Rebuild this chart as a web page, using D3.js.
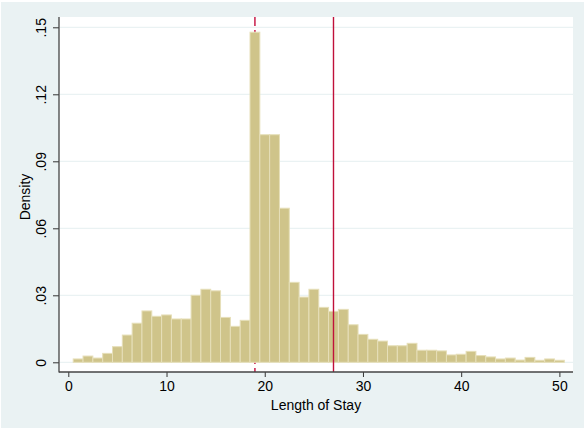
<!DOCTYPE html>
<html>
<head>
<meta charset="utf-8">
<script src="https://cdn.jsdelivr.net/npm/d3@7"></script>
<style>
  body { margin: 0; background: #ffffff; }
  svg { display: block; font-family: "Liberation Sans", Arial, sans-serif; }
</style>
</head>
<body>
<div id="chart"></div>
<script>
// bin centers (length of stay, days) and histogram densities
const stayDays = d3.range(1, 51);
const density = [
  0.0015, 0.0028, 0.0019, 0.0040, 0.0070, 0.0122, 0.0175, 0.0230, 0.0206, 0.0212,
  0.0194, 0.0194, 0.0300, 0.0327, 0.0320, 0.0201, 0.0161, 0.0188, 0.1478, 0.1019,
  0.1019, 0.0690, 0.0358, 0.0292, 0.0327, 0.0246, 0.0228, 0.0237, 0.0168, 0.0125,
  0.0103, 0.0095, 0.0074, 0.0074, 0.0085, 0.0054, 0.0054, 0.0051, 0.0033, 0.0036,
  0.0049, 0.0030, 0.0024, 0.0015, 0.0019, 0.0010, 0.0022, 0.0009, 0.0015, 0.0009
];
const xTicks = [0, 10, 20, 30, 40, 50];
const yTicks = [0, 0.03, 0.06, 0.09, 0.12, 0.15];
const yTickLabels = ["0", ".03", ".06", ".09", ".12", ".15"];
const dashedLineAt = 19;   // dashed reference line (drawn behind the bars)
const solidLineAt = 27;    // solid reference line

const W = 585, H = 430;
const plot = { left: 59, right: 573, top: 17, bottom: 372 };

const svg = d3.select("#chart").append("svg")
  .attr("width", W)
  .attr("height", H);

// graph region
svg.append("rect")
  .attr("x", 1).attr("y", 2)
  .attr("width", W - 2).attr("height", H - 4)
  .attr("fill", "#eaf2f3");

// plot region
svg.append("rect")
  .attr("x", plot.left).attr("y", plot.top)
  .attr("width", plot.right - plot.left)
  .attr("height", plot.bottom - plot.top)
  .attr("fill", "#ffffff");

const x = d3.scaleLinear().domain([0, 50]).range([68.3, 559.4]);
const y = d3.scaleLinear().domain([0, 0.15]).range([362.3, 27.3]);

// gridlines
svg.append("g")
  .selectAll("line")
  .data(yTicks)
  .enter()
  .append("line")
  .attr("x1", plot.left + 1)
  .attr("x2", plot.right)
  .attr("y1", d => y(d))
  .attr("y2", d => y(d))
  .attr("stroke", "#eaf2f3")
  .attr("stroke-width", 1.2);

// dashed line sits under the bars
svg.append("line")
  .attr("x1", x(dashedLineAt)).attr("x2", x(dashedLineAt))
  .attr("y1", plot.top).attr("y2", plot.bottom)
  .attr("stroke", "#cc2a55")
  .attr("stroke-width", 1.6)
  .attr("stroke-dasharray", "9,4");

// bars
svg.append("g")
  .selectAll("rect")
  .data(stayDays)
  .enter()
  .append("rect")
  .attr("x", d => x(d - 0.5))
  .attr("y", (d, i) => y(density[i]))
  .attr("width", d => x(d + 0.5) - x(d - 0.5))
  .attr("height", (d, i) => y(0) - y(density[i]))
  .attr("fill", "#cfc48a")
  .attr("stroke", "#e6dfb9")
  .attr("stroke-width", 1);

svg.append("line")
  .attr("x1", x(solidLineAt)).attr("x2", x(solidLineAt))
  .attr("y1", plot.top).attr("y2", plot.bottom)
  .attr("stroke", "#c0103a")
  .attr("stroke-width", 1.4);

// y axis
const yAxis = svg.append("g")
  .attr("transform", `translate(${plot.left},0)`)
  .call(d3.axisLeft(y).tickValues(yTicks).tickSize(6)
    .tickFormat((d, i) => yTickLabels[i]));
yAxis.select(".domain").remove();
yAxis.selectAll(".tick line").attr("stroke", "#333").attr("stroke-width", 1);
yAxis.selectAll(".tick text")
  .attr("transform", "rotate(-90)")
  .attr("x", 0)
  .attr("y", -13)
  .attr("dy", 0)
  .attr("text-anchor", "middle")
  .attr("fill", "#000")
  .style("font-size", "14px");

// x axis
const xAxis = svg.append("g")
  .attr("transform", `translate(0,${plot.bottom})`)
  .call(d3.axisBottom(x).tickValues(xTicks).tickSize(5).tickFormat(d3.format("d")));
xAxis.select(".domain").remove();
xAxis.selectAll(".tick line").attr("stroke", "#333").attr("stroke-width", 1);
xAxis.selectAll(".tick text")
  .attr("y", 19)
  .attr("dy", 0)
  .attr("fill", "#000")
  .style("font-size", "14px");

// axis lines
svg.append("line")
  .attr("x1", plot.left).attr("x2", plot.left)
  .attr("y1", plot.top).attr("y2", plot.bottom + 0.5)
  .attr("stroke", "#444").attr("stroke-width", 1.3);
svg.append("line")
  .attr("x1", plot.left).attr("x2", plot.right)
  .attr("y1", plot.bottom).attr("y2", plot.bottom)
  .attr("stroke", "#444").attr("stroke-width", 1.3);

// axis titles
svg.append("text")
  .attr("x", (plot.left + plot.right) / 2)
  .attr("y", 410)
  .attr("text-anchor", "middle")
  .style("font-size", "14px")
  .text("Length of Stay");

svg.append("text")
  .attr("transform", "translate(30,197) rotate(-90)")
  .attr("text-anchor", "middle")
  .style("font-size", "14px")
  .text("Density");
</script>
</body>
</html>
